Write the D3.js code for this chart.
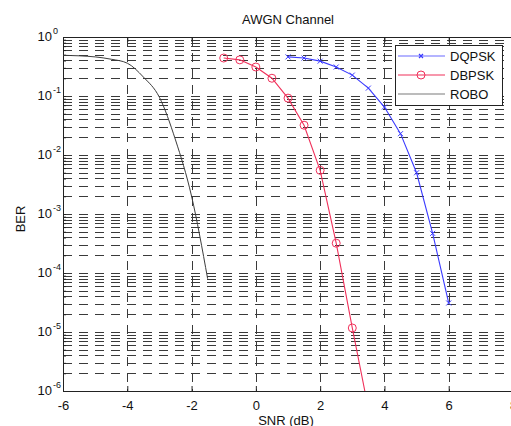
<!DOCTYPE html>
<html>
<head>
<meta charset="utf-8">
<script src="https://cdn.jsdelivr.net/npm/d3@7"></script>
<style>
  body { margin: 0; background: #fff; }
  svg text { font-family: "Liberation Sans", Arial, Helvetica, sans-serif; fill: #111; }
</style>
</head>
<body>
<div id="chart"></div>
<script>
// data
var snrDqpsk = [1, 1.5, 2, 2.5, 3, 3.5, 4, 4.5, 5, 5.5, 6];
var berDqpsk = [0.46, 0.44, 0.39, 0.31, 0.226, 0.136, 0.065, 0.023, 0.005, 4.7e-4, 3.1e-5];

var snrDbpsk = [-1, -0.5, 0, 0.5, 1, 1.5, 2, 2.5, 3, 3.5];
var berDbpsk = [0.44, 0.41, 0.31, 0.2, 0.092, 0.032, 0.0055, 3.2e-4, 1.17e-5, 5e-7];

var snrRobo = [-6, -5.5, -5, -4.5, -4, -3.5, -3, -2.5, -2, -1.5];
var berRobo = [0.49, 0.48, 0.46, 0.42, 0.36, 0.21, 0.095, 0.018, 0.002, 8e-5];

var xTicks = [-6, -4, -2, 0, 2, 4, 6, 8];
var yDecades = [0, -1, -2, -3, -4, -5, -6];
var legendNames = ["DQPSK", "DBPSK", "ROBO"];

var WIDTH = 511, HEIGHT = 426;
var LEFT = 63, RIGHT = 513, TOP = 37, BOTTOM = 391;

var svg = d3.select("#chart").append("svg")
    .attr("width", WIDTH)
    .attr("height", HEIGHT);

var x = d3.scaleLinear().domain([-6, 8]).range([LEFT, RIGHT]);
var y = d3.scaleLog().domain([1e-6, 1]).range([BOTTOM, TOP]);

svg.append("defs").append("clipPath").attr("id", "plotclip")
    .append("rect")
    .attr("x", LEFT).attr("y", TOP)
    .attr("width", RIGHT - LEFT).attr("height", BOTTOM - TOP);

// grid
var grid = svg.append("g").attr("id", "grid");
var minorVals = [];
for (var e = -6; e < 0; e++) {
    for (var m = 1; m < 10; m++) minorVals.push(m * Math.pow(10, e));
}
grid.selectAll("line.h")
    .data(minorVals.filter(function (v) { return v > 1e-6; }))
    .enter().append("line")
    .attr("class", "h")
    .attr("x1", LEFT).attr("x2", RIGHT)
    .attr("y1", function (d) { return Math.round(y(d)) + 0.5; })
    .attr("y2", function (d) { return Math.round(y(d)) + 0.5; })
    .attr("stroke", "#3a3a3a")
    .attr("stroke-width", 1)
    .attr("stroke-dasharray", "9,7");

grid.selectAll("line.v")
    .data(xTicks.slice(1))
    .enter().append("line")
    .attr("class", "v")
    .attr("x1", function (d) { return Math.round(x(d)) + 0.5; })
    .attr("x2", function (d) { return Math.round(x(d)) + 0.5; })
    .attr("y1", TOP).attr("y2", BOTTOM)
    .attr("stroke", "#3a3a3a")
    .attr("stroke-width", 1)
    .attr("stroke-dasharray", "9,7");

// axes box
svg.append("rect")
    .attr("x", LEFT + 0.5).attr("y", TOP + 0.5)
    .attr("width", RIGHT - LEFT).attr("height", BOTTOM - TOP)
    .attr("fill", "none")
    .attr("stroke", "#222")
    .attr("stroke-width", 1);

// x axis ticks (inward) bottom & top
var xAxis = d3.axisBottom(x).tickValues(xTicks).tickSizeInner(-5).tickSizeOuter(0)
    .tickFormat(function (d) { return d < 0 ? "-" + Math.abs(d) : d; });
var gx = svg.append("g").attr("transform", "translate(0," + BOTTOM + ")").call(xAxis);
gx.select(".domain").remove();
gx.selectAll("line").attr("stroke", "#222");
gx.selectAll("text").attr("dy", "1.25em").style("font-size", "13px").attr("fill", "#111");

var gxTop = svg.append("g").attr("transform", "translate(0," + TOP + ")")
    .call(d3.axisTop(x).tickValues(xTicks).tickSizeInner(-5).tickSizeOuter(0).tickFormat(""));
gxTop.select(".domain").remove();
gxTop.selectAll("line").attr("stroke", "#222");

// y axis ticks (inward)
var yAxis = d3.axisLeft(y).tickValues(minorVals.concat([1])).tickSizeInner(-3).tickSizeOuter(0).tickFormat("");
var gy = svg.append("g").attr("transform", "translate(" + LEFT + ",0)").call(yAxis);
gy.select(".domain").remove();
gy.selectAll("line").attr("stroke", "#222");

// y tick labels 10^n
var ylab = svg.append("g").attr("id", "ylabels");
yDecades.forEach(function (p) {
    var t = ylab.append("text")
        .attr("x", 52)
        .attr("y", y(Math.pow(10, p)) + 4)
        .attr("text-anchor", "end")
        .style("font-size", "13px")
        .text("10");
    ylab.append("text")
        .attr("x", 53)
        .attr("y", y(Math.pow(10, p)) - 3)
        .style("font-size", "9px")
        .text(p === 0 ? "0" : "-" + Math.abs(p));
});

// series
var plot = svg.append("g").attr("clip-path", "url(#plotclip)");
var line = d3.line()
    .x(function (d) { return x(d[0]); })
    .y(function (d) { return y(d[1]); });

var roboPts = d3.zip(snrRobo, berRobo);
var dbpskPts = d3.zip(snrDbpsk, berDbpsk);
var dqpskPts = d3.zip(snrDqpsk, berDqpsk);

plot.append("path")
    .datum(roboPts)
    .attr("d", line.curve(d3.curveMonotoneX))
    .attr("fill", "none")
    .attr("stroke", "#3c3c3c")
    .attr("stroke-width", 1);

line.curve(d3.curveLinear);

plot.append("path")
    .datum(dbpskPts)
    .attr("d", line)
    .attr("fill", "none")
    .attr("stroke", "#f0305a")
    .attr("stroke-width", 1.1);

plot.selectAll("circle.dbpsk")
    .data(dbpskPts.filter(function (d) { return d[1] >= 1e-6; }))
    .enter().append("circle")
    .attr("class", "dbpsk")
    .attr("cx", function (d) { return x(d[0]); })
    .attr("cy", function (d) { return y(d[1]); })
    .attr("r", 4)
    .attr("fill", "none")
    .attr("stroke", "#f0305a")
    .attr("stroke-width", 1);

plot.append("path")
    .datum(dqpskPts)
    .attr("d", line)
    .attr("fill", "none")
    .attr("stroke", "#3a3aff")
    .attr("stroke-width", 1.1);

var xMark = function (cx, cy, s) {
    return "M" + (cx - s) + "," + (cy - s) + "L" + (cx + s) + "," + (cy + s) +
        "M" + (cx - s) + "," + (cy + s) + "L" + (cx + s) + "," + (cy - s);
};
plot.selectAll("path.dqpsk")
    .data(dqpskPts)
    .enter().append("path")
    .attr("class", "dqpsk")
    .attr("d", function (d) { return xMark(x(d[0]), y(d[1]), 2.5); })
    .attr("stroke", "#3a3aff")
    .attr("stroke-width", 1);

// title and labels
svg.append("text")
    .attr("x", (LEFT + RIGHT) / 2)
    .attr("y", 24)
    .attr("text-anchor", "middle")
    .style("font-size", "13px")
    .text("AWGN Channel");

svg.append("text")
    .attr("x", (LEFT + RIGHT) / 2 - 2)
    .attr("y", 425)
    .attr("text-anchor", "middle")
    .style("font-size", "13px")
    .text("SNR (dB)");

svg.append("text")
    .attr("transform", "translate(25,219) rotate(-90)")
    .attr("text-anchor", "middle")
    .style("font-size", "13px")
    .text("BER");

// legend
var legend = svg.append("g").attr("id", "legend");
legend.append("rect")
    .attr("x", 395.5).attr("y", 45.5)
    .attr("width", 107).attr("height", 60)
    .attr("fill", "#fff")
    .attr("stroke", "#222")
    .attr("stroke-width", 1);

var legColors = ["#6a6aff", "#f0305a", "#7a7a7a"];
legendNames.forEach(function (name, i) {
    var ly = 56 + i * 19;
    legend.append("line")
        .attr("x1", 398).attr("x2", 445)
        .attr("y1", ly).attr("y2", ly)
        .attr("stroke", legColors[i])
        .attr("stroke-width", 1.1);
    if (i === 0) {
        legend.append("path")
            .attr("d", xMark(421, ly, 2))
            .attr("stroke", "#3a3aff")
            .attr("stroke-width", 1.2);
    } else if (i === 1) {
        legend.append("circle")
            .attr("cx", 421).attr("cy", ly).attr("r", 4)
            .attr("fill", "none").attr("stroke", legColors[i]);
    }
    legend.append("text")
        .attr("x", 450)
        .attr("y", ly + 5)
        .style("font-size", "13px")
        .text(name);
});
</script>
</body>
</html>
